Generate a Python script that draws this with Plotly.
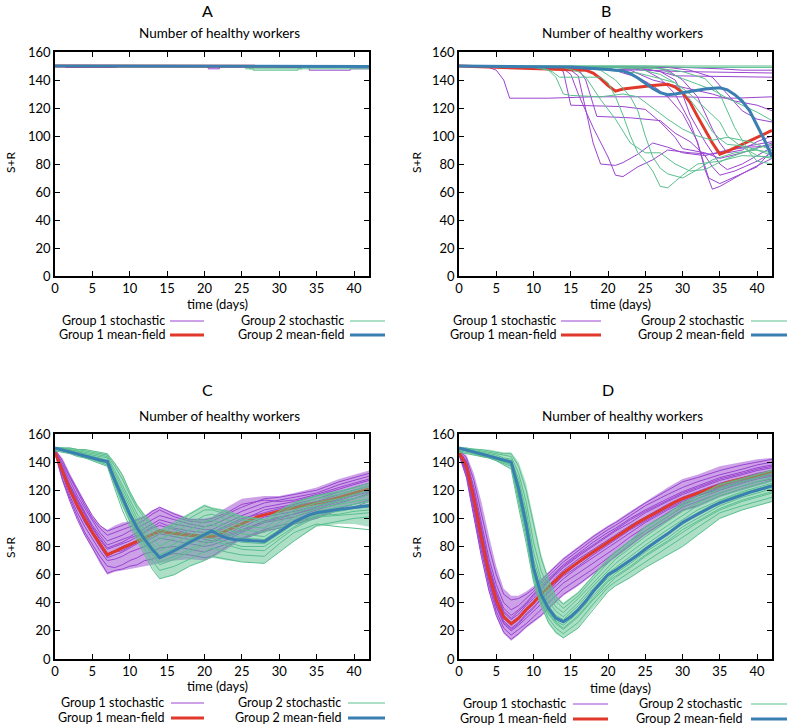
import plotly.graph_objects as go

W, H = 787, 726
FONT = "Lato"
PURPLE = "#9a44d0"
GREEN = "#5abf8e"
RED = "#e0392b"
BLUE = "#3a7fb2"
PURPLE_FILL = "rgba(154,68,208,0.50)"
GREEN_FILL = "rgba(90,191,142,0.50)"

# ---------------- data ----------------
T_GRID = [0, 1, 2, 3, 4, 5, 6, 7, 8, 9, 10, 11, 12, 13, 14, 16, 18, 20, 21, 23, 25, 28, 30, 32, 35, 38, 40, 42]
T_DAY = list(range(43))
X_TICKS = [0, 5, 10, 15, 20, 25, 30, 35, 40]
Y_TICKS = [0, 20, 40, 60, 80, 100, 120, 140, 160]

# Panel A (step trajectories)
A_G1_T = [[0, 1.4, 8.2, 42], [0, 20.5, 22, 42], [0, 30, 34, 39.5, 42], [0, 42]]
A_G1_V = [[150, 149, 150, 150], [150, 148, 150, 150], [150, 149, 147, 148, 148], [150, 150]]
A_G2_T = [[0, 25.5, 26.5, 32.5, 42], [0, 26, 29, 33, 42], [0, 42]]
A_G2_V = [[150, 148, 147, 148, 148], [150, 148, 148, 149, 149], [150, 150]]
A_MF1_T = [0, 42]
A_MF1_V = [150, 149.8]
A_MF2_T = [0, 42]
A_MF2_V = [150, 149.7]

# Panel B
B_G1_T = [
    [0, 4, 5, 6, 6.8, 12, 18, 30, 37, 42],
    [0, 14, 15, 16, 18, 20, 21, 22, 24, 26, 28, 31, 34, 38, 42],
    [0, 15, 16, 17, 18, 19, 21, 22, 24, 26, 28, 30, 33, 36, 39, 42],
    [0, 13, 14, 15, 22, 25, 27, 29, 30, 33, 35, 38, 42],
    [0, 16, 17, 18.5, 23, 27, 29, 31, 33, 34, 35, 37, 40, 42],
    [0, 20, 22, 24, 26, 28, 30, 32, 33, 34, 35, 37, 39, 42],
    [0, 21, 25, 27, 29, 31, 32, 33.5, 35, 37, 40, 42],
    [0, 24, 27, 29, 30, 31, 33, 35, 36, 38, 40, 42],
    [0, 26, 28, 30, 32, 34, 35, 36, 38, 40, 42],
    [0, 28, 31, 34, 36, 38, 40, 42],
    [0, 20, 25, 30, 42],
    [0, 23, 27, 29, 42],
    [0, 30, 35, 38, 42],
    [0, 18, 23, 26, 29, 34, 37, 40, 42],
]
B_G1_V = [
    [150, 149, 147, 140, 127, 127, 128, 128, 127, 128],
    [150, 148, 144, 130, 106, 85, 72, 71, 78, 83, 90, 88, 87, 92, 96],
    [150, 147, 143, 120, 95, 80, 79, 81, 87, 95, 92, 88, 86, 90, 92, 93],
    [150, 149, 146, 122, 121, 119, 110, 99, 91, 88, 84, 88, 95],
    [150, 148, 140, 114, 113, 111, 102, 96, 86, 78, 72, 75, 82, 88],
    [150, 149, 145, 142, 136, 128, 116, 96, 76, 62, 64, 70, 76, 84],
    [150, 149, 147, 141, 130, 110, 95, 70, 66, 71, 78, 90],
    [150, 149, 146, 140, 130, 115, 96, 80, 76, 80, 86, 92],
    [150, 149, 147, 140, 128, 105, 95, 88, 90, 96, 100],
    [150, 149, 147, 142, 130, 118, 112, 110],
    [150, 148, 147, 146, 145],
    [150, 149, 146, 143, 142],
    [150, 149, 148, 147, 147],
    [150, 148, 147, 140, 136, 130, 125, 122, 118],
]
B_G2_T = [
    [0, 10, 12, 13, 14, 15, 19, 22, 24, 26, 28, 30, 32, 34, 36, 39, 42],
    [0, 11, 12.5, 13.5, 19, 20, 21, 22, 23, 24, 25, 26, 27, 28, 30, 32, 35, 38, 42],
    [0, 14, 16, 17, 19, 21, 23, 25, 27, 29, 31, 33, 36, 39, 42],
    [0, 17, 19, 21, 23, 24, 25, 26, 27, 28, 30, 32, 34, 37, 40, 42],
    [0, 20, 24, 27, 29, 31, 33, 34, 35, 36, 38, 40, 42],
    [0, 22, 27, 30, 32, 34, 36, 38, 40, 42],
    [0, 42],
    [0, 25, 30, 42],
    [0, 26, 30, 33, 35, 36, 37, 38, 39, 40, 42],
    [0, 18, 20, 24, 27, 29, 31, 33, 35, 36, 38, 40, 42],
]
B_G2_V = [
    [150, 149, 147, 142, 130, 129, 128, 130, 128, 120, 112, 105, 100, 97, 99, 96, 90],
    [150, 149, 146, 142, 142, 138, 128, 115, 100, 88, 82, 75, 64, 63, 72, 80, 82, 86, 85],
    [150, 149, 146, 142, 126, 112, 95, 88, 88, 80, 75, 76, 84, 90, 94],
    [150, 149, 147, 140, 128, 118, 100, 85, 77, 73, 70, 76, 83, 88, 90, 88],
    [150, 149, 148, 144, 138, 126, 112, 103, 98, 94, 93, 90, 86],
    [150, 149, 148, 141, 137, 133, 127, 122, 117, 111],
    [150, 150],
    [150, 150, 149, 149],
    [150, 149, 146, 141, 130, 118, 106, 97, 88, 82, 80],
    [150, 149, 147, 145, 141, 138, 130, 120, 110, 100, 92, 86, 84],
]
B_MF1_T = [0, 5, 10, 15, 17, 18, 19, 20, 21, 22, 24, 26, 28, 29, 30, 31, 32, 33, 34, 35, 36, 38, 40, 42]
B_MF1_V = [150, 149, 148, 147.5, 147, 145, 141, 136, 132, 133.5, 135, 136, 137, 135, 131, 124, 114, 104, 95, 87, 89, 94, 99, 104]
B_MF2_T = [0, 5, 10, 15, 18, 20, 22, 23, 24, 25, 26, 27, 28, 29, 31, 33, 35, 36, 37, 38, 39, 40, 41, 42]
B_MF2_V = [150, 150, 149.5, 149.3, 148.5, 147.5, 146.5, 144.5, 141.5, 137.5, 134, 131, 129.5, 130, 132, 133.5, 134.5, 133, 129.5, 125, 118, 108, 97, 85]

# Panel C (values on T_GRID)
C_G1_PATHS = [
    [146, 127, 112, 99, 88, 79, 70, 61, 63, 64, 66, 67, 70, 71, 73, 75, 74, 72, 73, 80, 86, 92, 95, 97, 101, 107, 110, 113],
    [147, 128, 114, 101, 90, 81, 73, 66, 65, 67, 70, 72, 75, 76, 79, 80, 78, 76, 78, 82, 85, 91, 93, 96, 100, 106, 108, 112],
    [148, 131, 116, 104, 94, 85, 77, 70, 71, 73, 76, 78, 80, 83, 86, 84, 82, 80, 81, 85, 90, 97, 99, 101, 106, 111, 114, 118],
    [147, 132, 119, 107, 97, 88, 80, 72, 74, 76, 79, 82, 85, 88, 90, 90, 89, 88, 89, 94, 99, 106, 108, 110, 114, 119, 122, 125],
    [148, 134, 121, 110, 100, 91, 83, 75, 77, 80, 82, 84, 87, 89, 92, 89, 87, 86, 86, 89, 94, 101, 103, 105, 109, 114, 117, 120],
    [147, 135, 122, 112, 102, 93, 85, 78, 80, 82, 84, 87, 90, 93, 95, 92, 89, 85, 84, 88, 92, 98, 100, 103, 108, 113, 116, 119],
    [148, 136, 124, 114, 104, 95, 88, 81, 83, 85, 87, 90, 93, 96, 99, 96, 94, 92, 92, 97, 102, 108, 110, 112, 116, 121, 124, 127],
    [148, 137, 126, 116, 107, 98, 90, 84, 86, 88, 91, 93, 96, 99, 102, 99, 96, 94, 95, 100, 105, 111, 113, 115, 118, 124, 127, 130],
    [149, 139, 128, 118, 109, 100, 93, 88, 90, 92, 94, 96, 99, 103, 106, 101, 98, 97, 98, 103, 108, 114, 115, 117, 120, 126, 129, 132],
    [149, 141, 130, 120, 111, 102, 95, 91, 93, 95, 97, 99, 101, 105, 108, 103, 99, 99, 100, 104, 110, 113, 112, 113, 117, 122, 125, 128],
    [147, 133, 119, 108, 97, 89, 80, 73, 76, 77, 80, 83, 84, 86, 89, 87, 85, 83, 83, 87, 91, 98, 101, 103, 107, 112, 114, 117],
    [148, 135, 123, 113, 103, 94, 86, 79, 81, 83, 86, 88, 91, 94, 97, 93, 91, 90, 90, 95, 100, 104, 107, 109, 112, 117, 120, 123],
]
C_G1_LOW = [146, 128, 113, 100, 88, 78, 68, 60, 62, 63, 64, 65, 66, 67, 68, 70, 71, 70, 72, 78, 85, 90, 93, 96, 100, 107, 110, 113]
C_G1_HIGH = [149, 143, 132, 122, 112, 102, 95, 92, 95, 97, 98, 100, 102, 106, 108, 104, 100, 100, 101, 108, 114, 116, 116, 118, 122, 128, 131, 134]
C_G2_PATHS = [
    [148, 147, 146, 144, 143, 141, 139, 137, 121, 106, 94, 84, 74, 64, 57, 60, 66, 70, 73, 71, 69, 68, 76, 84, 95, 98, 100, 101],
    [149, 148, 147, 145, 143, 142, 140, 138, 124, 110, 98, 87, 78, 70, 63, 66, 71, 76, 79, 76, 74, 73, 82, 90, 96, 94, 93, 92],
    [149, 148, 147, 145, 144, 142, 141, 139, 126, 113, 100, 90, 81, 74, 67, 71, 76, 81, 84, 81, 78, 77, 85, 93, 101, 102, 103, 104],
    [150, 149, 148, 146, 145, 143, 141, 140, 127, 115, 103, 93, 84, 77, 71, 76, 82, 87, 89, 86, 83, 82, 89, 96, 103, 105, 107, 108],
    [150, 149, 148, 147, 145, 144, 142, 141, 129, 117, 105, 95, 87, 80, 74, 79, 85, 90, 92, 89, 86, 85, 92, 99, 105, 108, 110, 112],
    [150, 149, 148, 147, 146, 144, 143, 141, 130, 119, 107, 97, 89, 82, 77, 82, 88, 94, 96, 92, 89, 87, 94, 101, 107, 110, 112, 114],
    [150, 150, 149, 148, 146, 145, 144, 143, 132, 121, 110, 100, 92, 86, 80, 86, 92, 98, 99, 95, 92, 90, 97, 104, 109, 112, 114, 117],
    [150, 150, 149, 148, 147, 146, 145, 144, 134, 124, 113, 103, 96, 90, 85, 90, 96, 102, 103, 99, 95, 93, 100, 106, 111, 114, 117, 120],
    [150, 150, 150, 149, 148, 147, 146, 145, 137, 128, 117, 107, 100, 94, 89, 94, 100, 106, 106, 103, 99, 97, 103, 109, 114, 117, 120, 123],
    [150, 150, 150, 149, 149, 148, 147, 146, 139, 131, 119, 109, 102, 96, 91, 96, 103, 109, 107, 105, 101, 99, 105, 111, 116, 119, 122, 125],
    [149, 149, 148, 146, 145, 143, 142, 140, 127, 116, 104, 94, 86, 79, 73, 77, 84, 89, 91, 87, 84, 84, 91, 97, 104, 106, 108, 110],
    [150, 149, 148, 146, 144, 143, 141, 139, 125, 112, 101, 91, 82, 75, 69, 73, 78, 84, 86, 83, 80, 80, 87, 94, 102, 103, 105, 106],
]
C_G2_LOW = [148, 147, 146, 144, 143, 141, 139, 137, 122, 108, 96, 85, 75, 65, 57, 60, 66, 70, 72, 70, 69, 68, 76, 84, 94, 96, 96, 94]
C_G2_HIGH = [150, 150, 150, 149, 149, 148, 147, 146, 140, 132, 120, 110, 103, 97, 92, 98, 104, 110, 108, 106, 102, 100, 106, 112, 117, 120, 122, 125]
C_MF1 = [147, 133, 120, 109, 99, 90, 82, 74, 76.5, 79, 81.5, 84, 86.5, 89, 91, 90, 89, 88.5, 88, 87.5, 87, 87, 89, 91.5, 94, 96.5, 99, 101,
         102.5, 104, 105.5, 106.5, 107.5, 108.5, 109.5, 110.5, 112, 113.5, 115, 116.5, 118, 119.5, 121]
C_MF2 = [150, 148.5, 147, 145.5, 144, 143, 141.5, 140.5, 127, 115, 103, 93, 85, 78, 72, 74.5, 77, 80, 83, 85.5, 88.5, 91, 88, 86, 85, 84.5, 84,
         83.5, 83.5, 87, 90.5, 94, 97.5, 100, 102.5, 104, 105, 106, 106.5, 107, 108, 108.5, 109]

# Panel D (values on T_GRID)
D_G1_PATHS = [
    [145, 129, 101, 73, 49, 31, 19, 14, 18, 23, 27, 31, 36, 41, 46, 53, 61, 69, 73, 81, 89, 99, 106, 109, 116, 121, 124, 127],
    [146, 131, 104, 77, 53, 34, 22, 17, 21, 25, 30, 35, 40, 45, 50, 57, 64, 72, 76, 84, 91, 101, 108, 112, 118, 123, 126, 128],
    [146, 133, 107, 80, 56, 37, 25, 20, 24, 29, 34, 39, 44, 49, 54, 61, 68, 75, 79, 87, 94, 104, 110, 114, 120, 125, 128, 130],
    [147, 135, 110, 83, 58, 39, 27, 22, 26, 32, 37, 42, 47, 52, 57, 65, 72, 79, 83, 90, 97, 106, 111, 116, 122, 126, 129, 131],
    [147, 136, 112, 85, 60, 41, 29, 24, 28, 34, 39, 45, 50, 55, 60, 68, 75, 82, 86, 93, 99, 108, 113, 117, 123, 127, 130, 132],
    [147, 137, 114, 87, 62, 43, 31, 26, 30, 36, 41, 47, 52, 58, 63, 71, 78, 85, 88, 95, 101, 110, 115, 119, 125, 129, 132, 134],
    [148, 138, 116, 90, 65, 46, 33, 28, 32, 38, 43, 49, 55, 60, 65, 73, 80, 87, 91, 97, 104, 112, 117, 121, 127, 131, 134, 136],
    [148, 140, 119, 93, 68, 49, 36, 31, 35, 40, 46, 52, 57, 62, 67, 75, 83, 90, 93, 100, 106, 114, 119, 123, 129, 133, 136, 138],
    [148, 141, 122, 97, 72, 53, 40, 35, 38, 43, 48, 54, 59, 64, 69, 77, 85, 92, 95, 102, 109, 117, 122, 126, 131, 135, 138, 140],
    [149, 143, 127, 104, 80, 60, 46, 42, 43, 46, 50, 56, 61, 66, 71, 79, 87, 94, 97, 104, 111, 120, 126, 129, 134, 138, 140, 142],
    [147, 134, 109, 82, 58, 38, 26, 21, 25, 31, 36, 43, 48, 54, 59, 66, 74, 81, 85, 92, 98, 107, 112, 116, 121, 126, 129, 131],
    [148, 139, 117, 91, 66, 47, 34, 29, 34, 39, 45, 50, 56, 61, 66, 74, 81, 88, 92, 99, 105, 113, 118, 122, 128, 132, 135, 137],
]
D_G1_LOW = [145, 128, 100, 72, 48, 30, 18, 13, 17, 22, 26, 30, 35, 40, 45, 52, 60, 68, 72, 80, 88, 98, 105, 108, 115, 120, 123, 126]
D_G1_HIGH = [149, 145, 132, 112, 88, 66, 50, 45, 45, 48, 52, 57, 62, 67, 72, 80, 88, 95, 98, 105, 112, 122, 128, 131, 137, 140, 142, 143]
D_G2_PATHS = [
    [147, 146, 145, 144, 143, 141, 138, 135, 108, 83, 55, 38, 26, 19, 15, 22, 35, 48, 52, 58, 65, 74, 80, 88, 100, 106, 109, 112],
    [148, 147, 146, 144, 143, 141, 139, 137, 112, 87, 58, 41, 29, 22, 18, 26, 39, 51, 55, 62, 69, 79, 86, 93, 104, 109, 112, 115],
    [149, 148, 146, 145, 144, 142, 140, 138, 115, 90, 60, 43, 32, 25, 21, 30, 42, 53, 58, 65, 73, 83, 90, 97, 106, 112, 115, 118],
    [149, 148, 147, 145, 144, 142, 141, 139, 118, 93, 62, 45, 34, 27, 24, 33, 45, 56, 61, 68, 76, 86, 94, 100, 109, 115, 118, 121],
    [150, 148, 147, 146, 144, 143, 141, 140, 120, 95, 64, 47, 36, 29, 26, 35, 47, 58, 63, 70, 78, 89, 96, 103, 111, 117, 120, 123],
    [150, 149, 147, 146, 145, 143, 142, 141, 122, 98, 67, 49, 38, 31, 28, 38, 50, 61, 65, 73, 81, 92, 99, 106, 113, 119, 122, 125],
    [150, 149, 148, 147, 145, 144, 142, 141, 125, 102, 71, 53, 41, 34, 30, 40, 52, 63, 68, 76, 84, 95, 102, 109, 116, 121, 124, 127],
    [150, 149, 148, 147, 146, 145, 143, 142, 128, 106, 76, 57, 45, 37, 33, 43, 54, 65, 71, 79, 87, 98, 105, 111, 118, 123, 126, 129],
    [150, 150, 149, 148, 147, 146, 145, 144, 132, 112, 83, 63, 50, 41, 36, 45, 57, 68, 74, 82, 91, 101, 109, 114, 121, 126, 129, 132],
    [150, 150, 149, 149, 148, 147, 146, 146, 137, 120, 95, 72, 56, 44, 39, 47, 59, 71, 76, 84, 94, 103, 111, 116, 124, 128, 131, 134],
    [149, 148, 147, 145, 144, 142, 140, 139, 117, 92, 61, 44, 33, 26, 22, 31, 43, 55, 59, 66, 74, 84, 92, 98, 107, 113, 116, 119],
    [150, 149, 148, 146, 145, 143, 141, 140, 121, 97, 66, 48, 37, 30, 27, 36, 48, 60, 64, 71, 79, 90, 97, 104, 112, 118, 121, 124],
]
D_G2_LOW = [147, 146, 145, 144, 143, 141, 138, 135, 110, 85, 55, 38, 25, 18, 15, 22, 36, 48, 52, 58, 65, 74, 80, 88, 100, 106, 109, 112]
D_G2_HIGH = [150, 150, 150, 149, 149, 148, 147, 147, 140, 125, 100, 75, 58, 45, 40, 48, 60, 72, 77, 85, 95, 104, 112, 116, 125, 129, 132, 135]
D_MF1 = [147, 137, 114, 86, 61, 42, 30, 25, 29, 35, 40, 46, 51, 56, 61, 65, 69, 72.5, 76, 79.5, 83, 87, 90.5, 94, 97, 100, 103, 106, 109,
         111.5, 114, 116, 118, 120, 122, 124, 125.5, 127, 128, 129, 130.5, 132, 133]
D_MF2 = [150, 148.5, 147, 146, 144.5, 143, 141.5, 140, 121, 96, 65, 46, 36, 29, 26.5, 30, 35, 41, 48, 54, 60, 63, 66.5, 70, 74, 78, 82,
         85.5, 89, 93, 97, 100, 103, 106, 108.5, 111, 113, 115, 117, 118.5, 120, 121.5, 123]

LEGEND_LABELS = ["Group 1 stochastic", "Group 1 mean-field", "Group 2 stochastic", "Group 2 mean-field"]
PANEL_LETTERS = ["A", "B", "C", "D"]
PANEL_TITLE = "Number of healthy workers"
X_TITLE = "time (days)"
Y_TITLE = "S+R"

# ---------------- figure ----------------
fig = go.Figure()


def line(xs, ys, color, width, ax, shape="linear"):
    fig.add_trace(go.Scatter(x=xs, y=ys, mode="lines", line=dict(color=color, width=width, shape=shape),
                             xaxis="x" + ax, yaxis="y" + ax, hoverinfo="skip", showlegend=False))


def band(low, high, color, ax):
    fig.add_trace(go.Scatter(x=T_GRID, y=low, mode="lines", line=dict(width=0), xaxis="x" + ax, yaxis="y" + ax,
                             hoverinfo="skip", showlegend=False))
    fig.add_trace(go.Scatter(x=T_GRID, y=high, mode="lines", line=dict(width=0), fill="tonexty", fillcolor=color,
                             xaxis="x" + ax, yaxis="y" + ax, hoverinfo="skip", showlegend=False))


# A
for t, v in zip(A_G1_T, A_G1_V):
    line(t, v, PURPLE, 1, "", "hv")
line(A_MF1_T, A_MF1_V, RED, 3, "")
for t, v in zip(A_G2_T, A_G2_V):
    line(t, v, GREEN, 1, "", "hv")
line(A_MF2_T, A_MF2_V, BLUE, 3, "")

# B
for t, v in zip(B_G1_T, B_G1_V):
    line(t, v, PURPLE, 1, "2")
line(B_MF1_T, B_MF1_V, RED, 3, "2")
for t, v in zip(B_G2_T, B_G2_V):
    line(t, v, GREEN, 1, "2")
line(B_MF2_T, B_MF2_V, BLUE, 3, "2")

# C
band(C_G1_LOW, C_G1_HIGH, PURPLE_FILL, "3")
for v in C_G1_PATHS:
    line(T_GRID, v, PURPLE, 1, "3")
line(T_DAY, C_MF1, RED, 3, "3")
band(C_G2_LOW, C_G2_HIGH, GREEN_FILL, "3")
for v in C_G2_PATHS:
    line(T_GRID, v, GREEN, 1, "3")
line(T_DAY, C_MF2, BLUE, 3, "3")

# D
band(D_G1_LOW, D_G1_HIGH, PURPLE_FILL, "4")
for v in D_G1_PATHS:
    line(T_GRID, v, PURPLE, 1, "4")
line(T_DAY, D_MF1, RED, 3, "4")
band(D_G2_LOW, D_G2_HIGH, GREEN_FILL, "4")
for v in D_G2_PATHS:
    line(T_GRID, v, GREEN, 1, "4")
line(T_DAY, D_MF2, BLUE, 3, "4")


def px(x):
    return x / W


def py(y):
    return 1 - y / H


# panel geometry (window pixels): left, right, top, bottom
PANELS = [(55, 369, 52, 276), (459, 772, 52, 276), (55, 369, 434, 659), (459, 772, 434, 659)]

axis_font = dict(family=FONT, size=13, color="black")
layout = dict(width=W, height=H, margin=dict(l=0, r=0, t=0, b=0, autoexpand=False), paper_bgcolor="white",
              plot_bgcolor="white", font=dict(family=FONT, size=13, color="black"), showlegend=False)
names = ["", "2", "3", "4"]
for i, (l, r, t, b) in enumerate(PANELS):
    n = names[i]
    layout["xaxis" + n] = dict(domain=[px(l), px(r)], range=[0, 42], anchor="y" + n, tickvals=X_TICKS,
                               showline=True, linecolor="black", linewidth=1.6, mirror="ticks", ticks="inside",
                               ticklen=5, tickcolor="black", showgrid=False, zeroline=False, tickfont=axis_font,
                               fixedrange=True)
    layout["yaxis" + n] = dict(domain=[py(b), py(t)], range=[0, 160], anchor="x" + n, tickvals=Y_TICKS,
                               showline=True, linecolor="black", linewidth=1.6, mirror="ticks", ticks="inside",
                               ticklen=5, tickcolor="black", showgrid=False, zeroline=False, tickfont=axis_font,
                               fixedrange=True)
fig.update_layout(**layout)

ann = []
shapes = []
LETTER_POS = [(207, 11), (606, 11), (207, 389), (608, 389)]
TITLE_POS = [(219, 33), (622, 33), (219, 416), (622, 416)]
XT_POS = [(217, 304), (620, 304), (217, 686), (620, 688)]
YT_POS = [(10, 163), (416, 163), (10, 548), (416, 548)]
# legend: col1 text end, col1 sample start/end, col2 text end, col2 sample start/end, row1 y, row2 y
LEG_POS = [(167, 170, 204, 346, 350, 385, 320, 334),
           (558, 561, 601, 746, 751, 788, 320, 334),
           (166, 171, 204, 343, 348, 385, 702, 717),
           (568, 573, 608, 744, 751, 788, 703, 718)]


def text(x, y, s, size=13, xanchor="center", angle=0):
    ann.append(dict(x=px(x), y=py(y), text=s, showarrow=False, xref="paper", yref="paper", xanchor=xanchor,
                    yanchor="middle", textangle=angle, font=dict(family=FONT, size=size, color="black")))


for i in range(4):
    text(LETTER_POS[i][0], LETTER_POS[i][1], PANEL_LETTERS[i], 16)
    text(TITLE_POS[i][0], TITLE_POS[i][1], PANEL_TITLE, 13.5)
    text(XT_POS[i][0], XT_POS[i][1], X_TITLE, 13)
    text(YT_POS[i][0], YT_POS[i][1], Y_TITLE, 12, angle=-90)
    c1e, s1a, s1b, c2e, s2a, s2b, r1, r2 = LEG_POS[i]
    items = [(c1e, s1a, s1b, r1, LEGEND_LABELS[0], PURPLE, 1),
             (c1e, s1a, s1b, r2, LEGEND_LABELS[1], RED, 3),
             (c2e, s2a, s2b, r1, LEGEND_LABELS[2], GREEN, 1),
             (c2e, s2a, s2b, r2, LEGEND_LABELS[3], BLUE, 3)]
    for te, sa, sb, yy, lab, col, w in items:
        text(te, yy, lab, 12.5, xanchor="right")
        shapes.append(dict(type="line", xref="paper", yref="paper", x0=px(sa), x1=px(sb), y0=py(yy + 1),
                           y1=py(yy + 1), line=dict(color=col, width=w)))
fig.update_layout(annotations=ann, shapes=shapes)

# remove the default page margin so the figure starts at the window's top-left corner
fig.write_html("out.html", config={"displayModeBar": False},
               post_script="document.body.style.margin='0px';")
